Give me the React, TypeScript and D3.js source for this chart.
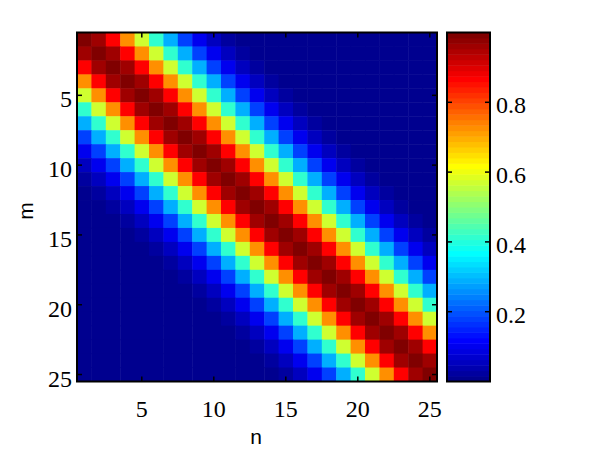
import React from "react";
import * as d3 from "d3";

// Matrix indices (m = rows, n = columns)
const rowIdx: number[] = Array.from({ length: 25 }, (_, i) => i + 1);
const colIdx: number[] = Array.from({ length: 25 }, (_, i) => i + 1);
// Value for each distance |m - n| from the diagonal
const offsetValues: number[] = [
  1.0, 0.955, 0.87, 0.725, 0.57, 0.415, 0.29, 0.18, 0.1, 0.058, 0.03, 0.014,
  0.006, 0.003, 0.001, 0, 0, 0, 0, 0, 0, 0, 0, 0, 0,
];
const axisTicks: number[] = [5, 10, 15, 20, 25];
const cbarTicks: number[] = [0.2, 0.4, 0.6, 0.8];

function jet(j: number): string {
  // j: 1..64 (MATLAB jet(64))
  const c = (v: number) => Math.max(0, Math.min(1, v));
  const r = c(Math.min((j - 24) / 16, (72 - j) / 16));
  const g = c(Math.min((j - 8) / 16, (56 - j) / 16));
  const b = c(Math.min((j + 8) / 16, (40 - j) / 16));
  return d3.rgb(Math.round(r * 255), Math.round(g * 255), Math.round(b * 255)).toString();
}

export default function App() {
  const left = 77, right = 437, top = 32.5, bottom = 381.5;
  const cbL = 447, cbR = 490;
  const cmin = 0, cmax = 1;
  const M = 64;
  const idx = (v: number) => Math.max(1, Math.min(M, Math.floor(((v - cmin) / (cmax - cmin)) * M) + 1));

  const x = d3.scaleLinear().domain([0.5, 25.5]).range([left, right]);
  const y = d3.scaleLinear().domain([0.5, 25.5]).range([top, bottom]);
  const cy = d3.scaleLinear().domain([cmin, cmax]).range([bottom, top]);

  const cells: JSX.Element[] = [];
  rowIdx.forEach((m) => {
    colIdx.forEach((n) => {
      const v = offsetValues[Math.abs(m - n)];
      cells.push(
        <rect
          key={`${m}-${n}`}
          x={x(n - 0.5)}
          y={y(m - 0.5)}
          width={x(n + 0.5) - x(n - 0.5) + 0.5}
          height={y(m + 0.5) - y(m - 0.5) + 0.5}
          fill={jet(idx(v))}
        />
      );
    });
  });

  const bands: JSX.Element[] = [];
  for (let j = 1; j <= M; j++) {
    const v0 = cmin + ((j - 1) / M) * (cmax - cmin);
    const v1 = cmin + (j / M) * (cmax - cmin);
    bands.push(
      <rect key={j} x={cbL} y={cy(v1)} width={cbR - cbL} height={cy(v0) - cy(v1) + 0.5} fill={jet(j)} />
    );
  }

  const tl = 5;
  const serif = "'Liberation Serif', 'Times New Roman', serif";
  const sans = "'Liberation Sans', Arial, sans-serif";

  return (
    <svg width={600} height={450} style={{ position: "absolute", left: 0, top: 0, background: "#fff" }}>
      {cells}
      {/* axis ticks */}
      {axisTicks.map((t) => (
        <g key={`xt${t}`} stroke="#000" strokeWidth={1.5}>
          <line x1={x(t)} x2={x(t)} y1={bottom} y2={bottom - tl} />
          <line x1={x(t)} x2={x(t)} y1={top} y2={top + tl} />
          <line x1={left} x2={left + tl} y1={y(t)} y2={y(t)} />
          <line x1={right} x2={right - tl} y1={y(t)} y2={y(t)} />
        </g>
      ))}
      <rect x={left} y={top} width={right - left} height={bottom - top} fill="none" stroke="#000" strokeWidth={2} />
      {axisTicks.map((t) => (
        <text key={`xl${t}`} x={x(t)} y={417} textAnchor="middle" fontFamily={serif} fontSize={24}>
          {t}
        </text>
      ))}
      {axisTicks.map((t) => (
        <text key={`yl${t}`} x={72} y={y(t)} dy="0.5em" textAnchor="end" fontFamily={serif} fontSize={24}>
          {t}
        </text>
      ))}
      <text x={256} y={444} textAnchor="middle" fontFamily={sans} fontSize={21}>
        n
      </text>
      <text transform={`translate(33,211) rotate(-90)`} textAnchor="middle" fontFamily={sans} fontSize={21}>
        m
      </text>
      {/* colorbar */}
      {bands}
      {cbarTicks.map((t) => (
        <g key={`ct${t}`} stroke="#000" strokeWidth={1.5}>
          <line x1={cbL} x2={cbL + tl} y1={cy(t)} y2={cy(t)} />
          <line x1={cbR} x2={cbR - tl} y1={cy(t)} y2={cy(t)} />
        </g>
      ))}
      <rect x={cbL} y={top} width={cbR - cbL} height={bottom - top} fill="none" stroke="#000" strokeWidth={2} />
      {cbarTicks.map((t) => (
        <text key={`cl${t}`} x={496} y={cy(t)} dy="0.45em" fontFamily={serif} fontSize={24}>
          {t.toFixed(1)}
        </text>
      ))}
    </svg>
  );
}
